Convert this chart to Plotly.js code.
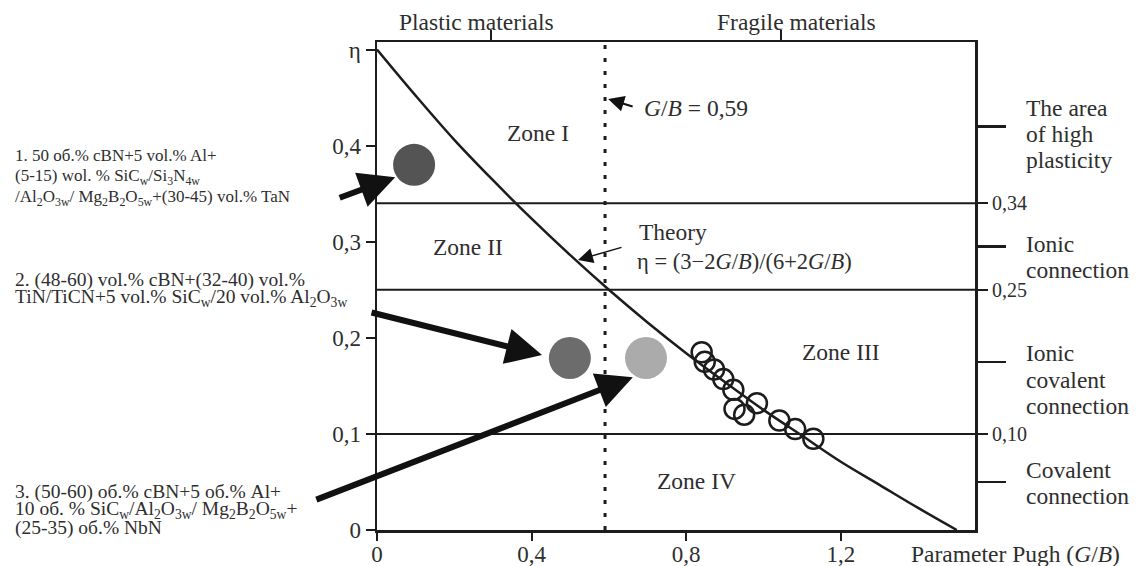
<!DOCTYPE html>
<html><head><meta charset="utf-8">
<script src="https://cdn.plot.ly/plotly-3.0.1.min.js"></script>
<style>html,body{margin:0;padding:0;background:#fff}#chart{width:1145px;height:566px}</style>
</head><body><div id="chart"></div>
<script>
// ---- data ----
const theoryX   = [0, 0.1, 0.2, 0.3, 0.4, 0.5, 0.6, 0.7, 0.8, 0.9, 1.0, 1.1, 1.2, 1.3, 1.4, 1.5];
const theoryEta = [0.5, 0.452, 0.406, 0.364, 0.324, 0.286, 0.25, 0.216, 0.184, 0.154, 0.125, 0.098, 0.071, 0.047, 0.023, 0];
const expX   = [0.840, 0.848, 0.872, 0.896, 0.922, 0.925, 0.950, 0.983, 1.041, 1.082, 1.129];
const expEta = [0.185, 0.175, 0.167, 0.157, 0.146, 0.126, 0.120, 0.132, 0.114, 0.105, 0.095];
const sampleNames  = ['1', '2', '3'];
const sampleX      = [0.096, 0.499, 0.696];
const sampleEta    = [0.380, 0.179, 0.179];
const sampleColors = ['#545454', '#6c6c6c', '#ababab'];
const criticalGB = 0.59;
const zoneBounds = [0.34, 0.25, 0.10];
const zoneBoundLabels = ['0,34', '0,25', '0,10'];
const zoneMid = [0.42, 0.295, 0.175, 0.05];
const zoneMidLabels = [['The area', 'of high', 'plasticity'], ['Ionic', 'connection'], ['Ionic', 'covalent', 'connection'], ['Covalent', 'connection']];
const xTickVals = [0, 0.4, 0.8, 1.2];
const xTickText = ['0', '0,4', '0,8', '1,2'];
const yTickVals = [0, 0.1, 0.2, 0.3, 0.4, 0.5];
const yTickText = ['0', '0,1', '0,2', '0,3', '0,4', 'η'];
const topTicks = [0.295, 1.045];
const topLabels = ['Plastic materials', 'Fragile materials'];
const zoneNames = ['Zone I', 'Zone II', 'Zone III', 'Zone IV'];
const sampleTexts = [
  ['1. 50 об.% cBN+5 vol.% Al+',
   '(5-15) wol. % SiC<sub>w</sub>/Si<sub>3</sub>N<sub>4w</sub>',
   '/Al<sub>2</sub>O<sub>3w</sub>/ Mg<sub>2</sub>B<sub>2</sub>O<sub>5w</sub>+(30-45) vol.% TaN'],
  ['2. (48-60) vol.% cBN+(32-40) vol.%',
   'TiN/TiCN+5 vol.% SiC<sub>w</sub>/20 vol.% Al<sub>2</sub>O<sub>3w</sub>'],
  ['3. (50-60) об.% cBN+5 об.% Al+',
   '10 об. % SiC<sub>w</sub>/Al<sub>2</sub>O<sub>3w</sub>/ Mg<sub>2</sub>B<sub>2</sub>O<sub>5w</sub>+',
   '(25-35) об.% NbN']
];

// ---- geometry ----
const W = 1145, H = 566, L = 377, R = 170, T = 42, B = 36;
const PW = W - L - R, PH = H - T - B;
const xMax = PW / 386.5, yMax = PH / 961;
const PX = p => (p - L) / PW;
const PY = p => (H - B - p) / PH;
const FONT = '"Liberation Serif", "Times New Roman", Times, serif';
const TXT = '#2e2e2e', LN = '#1c1c1c';
const BIG = 23.5;

const traces = [
  {x: theoryX, y: theoryEta, mode: 'lines', line: {color: LN, width: 2.5, shape: 'spline'}, hoverinfo: 'skip', showlegend: false},
  {x: expX, y: expEta, mode: 'markers', marker: {symbol: 'circle-open', size: 20, color: LN, line: {width: 2.5, color: LN}}, showlegend: false},
  {x: sampleX, y: sampleEta, text: sampleNames, mode: 'markers', marker: {size: 42, color: sampleColors, line: {width: 0}}, showlegend: false},
  {x: [null], y: [null], xaxis: 'x2', yaxis: 'y', showlegend: false, hoverinfo: 'skip'},
  {x: [null], y: [null], xaxis: 'x', yaxis: 'y2', showlegend: false, hoverinfo: 'skip'},
  {x: [null], y: [null], xaxis: 'x', yaxis: 'y3', showlegend: false, hoverinfo: 'skip'}
];

const shapes = [];
zoneBounds.forEach(v => shapes.push({type: 'line', xref: 'paper', yref: 'y', x0: 0, x1: 1, y0: v, y1: v, line: {color: LN, width: 2}}));
shapes.push({type: 'line', xref: 'x', yref: 'paper', x0: criticalGB, x1: criticalGB, y0: 0, y1: 1, line: {color: LN, width: 3, dash: '4px,9px'}});

const ann = [];
function txt(text, px, py, size, xanchor, extra) {
  ann.push(Object.assign({text: text, xref: 'paper', yref: 'paper', x: PX(px), y: PY(py), xanchor: xanchor || 'center', yanchor: 'middle',
    showarrow: false, font: {family: FONT, size: size, color: TXT}}, extra || {}));
}
// top labels
txt(topLabels[0], 476, 22, BIG);
txt(topLabels[1], 796, 22, BIG);
// zones
txt(zoneNames[0], 538, 133, BIG);
txt(zoneNames[1], 468, 247, BIG);
txt(zoneNames[2], 841, 352, BIG);
txt(zoneNames[3], 696, 481, BIG);
// theory
txt('Theory', 637, 232, BIG, 'left');
txt('η = (3−2<i>G</i>/<i>B</i>)/(6+2<i>G</i>/<i>B</i>)', 635, 261, 22.5, 'left');
txt('<i>G</i>/<i>B</i> = 0,59', 642, 108, BIG, 'left');
// x axis title
txt('Parameter Pugh (<i>G</i>/<i>B</i>)', 909, 554, BIG, 'left');
// right labels
const rightLineY = [[108, 134, 160], [244, 270], [353, 380, 406], [470, 496]];
zoneMidLabels.forEach((lines, i) => lines.forEach((s, j) => txt(s, 1024, rightLineY[i][j], BIG, 'left')));
// left sample descriptions
const leftLineY = [[155, 177, 198], [280, 297.5], [492, 510, 528]];
const leftSize = [17, 19.5, 19.5];
sampleTexts.forEach((lines, i) => lines.forEach((s, j) => txt(s, 13, leftLineY[i][j], leftSize[i], 'left')));

// arrows: tip in data coords, tail offset in pixels
const arrows = [
  {x: 0.047, y: 0.367, ax: -57, ay: 21, w: 6, s: 1.2},
  {x: 0.427, y: 0.182, ax: -172, ay: -43, w: 6, s: 1.2},
  {x: 0.662, y: 0.159, ax: -318, ay: 123, w: 6, s: 1.2},
  {x: 0.598, y: 0.4485, ax: 26, ay: 8, w: 2, s: 1.6},
  {x: 0.520, y: 0.281, ax: 45, ay: -13, w: 1.5, s: 2}
];
arrows.forEach(a => ann.push({xref: 'x', yref: 'y', x: a.x, y: a.y, ax: a.ax, ay: a.ay, text: '', showarrow: true,
  arrowhead: 2, arrowsize: a.s, arrowwidth: a.w, arrowcolor: '#111', standoff: 0}));

const tickFont = {family: FONT, size: 23, color: TXT};
const layout = {
  width: W, height: H,
  margin: {l: L, r: R, t: T, b: B, pad: 0},
  paper_bgcolor: '#fff', plot_bgcolor: '#fff',
  showlegend: false,
  font: {family: FONT},
  xaxis: {range: [0, xMax], tickvals: xTickVals, ticktext: xTickText, ticks: 'outside', ticklen: 8, tickwidth: 2, tickcolor: LN,
    showline: true, linewidth: 2.5, linecolor: LN, showgrid: false, zeroline: false, tickfont: tickFont, ticklabelstandoff: -6},
  xaxis2: {range: [0, xMax], overlaying: 'x', side: 'top', anchor: 'y', tickvals: topTicks, ticks: 'outside', ticklen: 10, tickwidth: 2,
    tickcolor: LN, showticklabels: false, showline: true, linewidth: 2.5, linecolor: LN, showgrid: false, zeroline: false},
  yaxis: {range: [0, yMax], tickvals: yTickVals, ticktext: yTickText, ticks: 'outside', ticklen: 9, tickwidth: 2, tickcolor: LN,
    showline: true, linewidth: 2.5, linecolor: LN, showgrid: false, zeroline: false, tickfont: tickFont},
  yaxis2: {range: [0, yMax], overlaying: 'y', side: 'right', anchor: 'x', tickvals: zoneMid, ticks: 'outside', ticklen: 28, tickwidth: 2.5,
    tickcolor: LN, showticklabels: false, showline: true, linewidth: 2.5, linecolor: LN, showgrid: false, zeroline: false},
  yaxis3: {range: [0, yMax], overlaying: 'y', side: 'right', anchor: 'x', tickvals: zoneBounds, ticktext: zoneBoundLabels, ticks: 'outside',
    ticklen: 12, tickwidth: 2, tickcolor: LN, showline: false, showgrid: false, zeroline: false,
    tickfont: {family: FONT, size: 20, color: TXT}},
  shapes: shapes,
  annotations: ann
};
Plotly.newPlot('chart', traces, layout, {displayModeBar: false, staticPlot: true});
</script>
</body></html>
